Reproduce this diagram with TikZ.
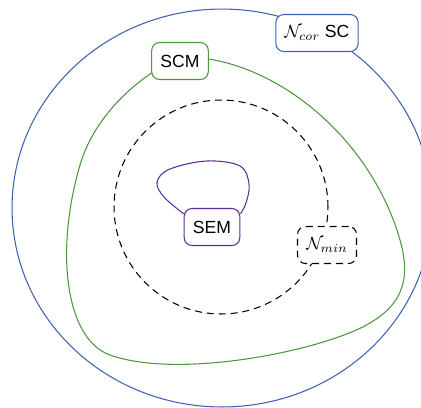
\documentclass[tikz,border=0pt]{standalone}
\usepackage[no-math]{fontspec}
\setmainfont{Liberation Sans}
\usepackage{amsmath}
\usepackage{xcolor}
\definecolor{corblue}{RGB}{64,96,176}
\definecolor{scmgreen}{RGB}{76,150,60}
\definecolor{sempurple}{RGB}{88,48,150}

\begin{document}
\begin{tikzpicture}[x=0.02cm, y=-0.02cm, line width=0.6pt, box/.style={draw, fill=white, rounded corners=4.5pt, minimum height=0.74cm, inner xsep=5pt}, dash line/.style={dash pattern=on 4pt off 2.8pt}]
\clip (0,0) rectangle (421,407);
\draw[corblue] (222,208) ellipse [x radius=4.2cm, y radius=3.98cm];
\draw[scmgreen] (180,57) .. controls (270,55) and (370,135) .. (400,240) .. controls (412,282) and (400,305) .. (370,323) .. controls (325,350) and (180,380) .. (110,355) .. controls (65,339) and (55,250) .. (80,165) .. controls (95,114) and (140,75) .. (180,57) -- cycle;
\draw[dash line] (221,207) circle [radius=2.14cm];
\node[box, draw=scmgreen] (scm) at (180,61) {SCM};
\node[box, draw=corblue] (ncor) at (317,33) {$\mathcal{N}_{cor}$ SC};
\node[box, dash line] (nmin) at (327,245) {$\mathcal{N}_{min}$};
\node[box, draw=sempurple] (sem) at (212,227) {SEM};
\draw[sempurple] plot[smooth, tension=0.6] coordinates {(sem.155) (164,197) (157,182) (170,169) (207,161) (240,166) (249,184) (246,203) (sem.25)};
\end{tikzpicture}
\end{document}
